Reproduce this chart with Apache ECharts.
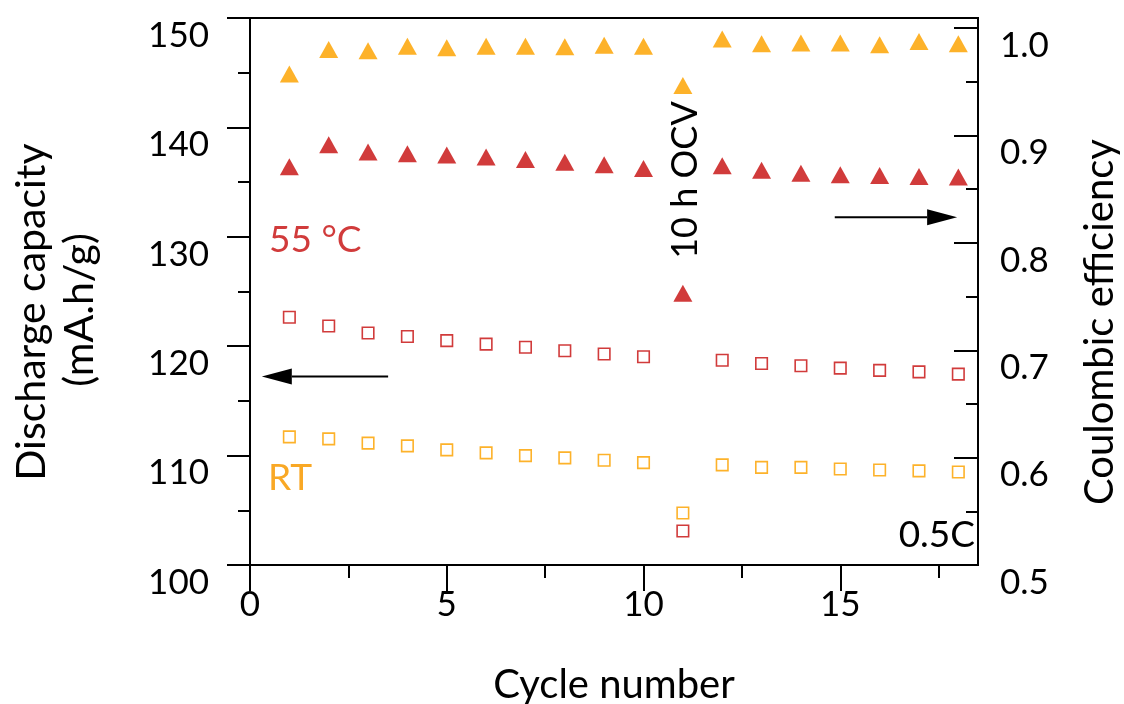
<!DOCTYPE html>
<html>
<head>
<meta charset="utf-8">
<script src="https://cdn.jsdelivr.net/npm/echarts@6/dist/echarts.min.js"></script>
<style>
html,body{margin:0;padding:0;background:#fff;}
#chart{width:1124px;height:704px;}
</style>
</head>
<body>
<div id="chart"></div>
<script>
// ---- data ----
const cycles = [1,2,3,4,5,6,7,8,9,10,11,12,13,14,15,16,17,18];
const capacityRT = [111.71,111.53,111.14,110.89,110.52,110.25,110.00,109.79,109.58,109.36,104.76,109.15,108.92,108.92,108.78,108.69,108.60,108.50];
const capacity55 = [122.64,121.85,121.21,120.88,120.51,120.19,119.90,119.58,119.29,119.03,103.11,118.71,118.42,118.21,118.00,117.79,117.65,117.45];
const ceRT = [0.9573,0.9801,0.9790,0.9831,0.9817,0.9833,0.9833,0.9828,0.9842,0.9833,0.9467,0.9900,0.9856,0.9861,0.9863,0.9847,0.9875,0.9854];
const ce55 = [0.8709,0.8915,0.8848,0.8831,0.8820,0.8800,0.8778,0.8752,0.8727,0.8694,0.7531,0.8718,0.8678,0.8650,0.8634,0.8627,0.8618,0.8615];

// ---- ticks ----
const xMajor = [0,5,10,15];
const xMinor = [2.5,7.5,12.5,17.5];
const leftMajor = [100,110,120,130,140,150];
const leftMinor = [105,115,125,135,145];
const rightMajor = [0.5,0.6,0.7,0.8,0.9,1.0];
const rightMinor = [0.55,0.65,0.75,0.85,0.95];

// ---- annotation anchors (data coords) ----
const leftArrow = {from:[3.51,117.23], to:[0.30,117.23]};
const rightArrow = {from:[14.86,0.824], to:[17.97,0.824]};

const RED = '#D13B3B';
const ORANGE = '#FDB22A';
const FONT = 'Lato';
const FS = 35;

const chart = echarts.init(document.getElementById('chart'), null, {renderer:'canvas'});

const lineStyle = {color:'#000', width:2};
function xAx(ticks, len, labels){
  return {
    type:'value', min:0, max:18.5, position:'bottom',
    axisLine:{show:true, onZero:false, lineStyle},
    axisTick:{show:true, customValues:ticks, length:len, inside:false, lineStyle},
    axisLabel:{show:labels, customValues:xMajor, margin:22, fontFamily:FONT, fontSize:FS, color:'#000'},
    splitLine:{show:false}, minorTick:{show:false}
  };
}
function yAx(pos, min, max, ticks, len, inside, labels, labelVals, margin, fmt){
  return {
    type:'value', min, max, position:pos,
    axisLine:{show:true, onZero:false, lineStyle},
    axisTick:{show:true, customValues:ticks, length:len, inside, lineStyle},
    axisLabel:{show:labels, customValues:labelVals, margin, fontFamily:FONT, fontSize:FS, color:'#000',
      verticalAlign:'top', formatter:fmt},
    splitLine:{show:false}
  };
}

const sq = (c)=>({symbol:'rect', symbolSize:11.5, itemStyle:{color:'rgba(255,255,255,0)', borderColor:c, borderWidth:1.6, opacity:1}});
const tri = (c)=>({symbol:'triangle', symbolSize:[19,17], itemStyle:{color:c, opacity:1}});

chart.setOption({
  animation:false,
  backgroundColor:'#fff',
  grid:{left:250, right:146, top:18, bottom:139, show:true, borderColor:'#000', borderWidth:2, backgroundColor:'transparent'},
  xAxis:[ xAx(xMajor,26,true), xAx(xMinor,13,false) ],
  yAxis:[
    yAx('left',100,150,leftMajor,23,false,true,leftMajor,41,v=>String(v)),
    yAx('left',100,150,leftMinor,12,false,false,leftMajor,41,v=>String(v)),
    yAx('right',0.5,1.0095,rightMajor,24,true,true,rightMajor,22,v=>Number(v).toFixed(1)),
    yAx('right',0.5,1.0095,rightMinor,12,true,false,rightMajor,22,v=>Number(v).toFixed(1))
  ],
  series:[
    Object.assign({type:'scatter', name:'Capacity 55C', xAxisIndex:0, yAxisIndex:0, data:cycles.map((c,i)=>[c,capacity55[i]])}, sq(RED)),
    Object.assign({type:'scatter', name:'Capacity RT', xAxisIndex:0, yAxisIndex:0, data:cycles.map((c,i)=>[c,capacityRT[i]])}, sq(ORANGE)),
    Object.assign({type:'scatter', name:'CE 55C', xAxisIndex:0, yAxisIndex:2, data:cycles.map((c,i)=>[c,ce55[i]])}, tri(RED)),
    Object.assign({type:'scatter', name:'CE RT', xAxisIndex:0, yAxisIndex:2, data:cycles.map((c,i)=>[c,ceRT[i]])}, tri(ORANGE))
  ]
});

function arrow(a, yIdx){
  const p0 = chart.convertToPixel({xAxisIndex:0, yAxisIndex:yIdx}, a.from);
  const p1 = chart.convertToPixel({xAxisIndex:0, yAxisIndex:yIdx}, a.to);
  const dir = Math.sign(p1[0]-p0[0]);
  const headLen = 30, headH = 8;
  const bx = p1[0] - dir*headLen;
  return [
    {type:'line', shape:{x1:p0[0], y1:p0[1], x2:bx, y2:p1[1]}, style:{stroke:'#000', lineWidth:2}},
    {type:'polygon', shape:{points:[[p1[0],p1[1]],[bx,p1[1]-headH],[bx,p1[1]+headH]]}, style:{fill:'#000'}}
  ];
}
function txt(x,y,t,opt){
  return {type:'text', x, y, rotation:opt.rot||0,
    style:{text:t, fontFamily:FONT, fontSize:opt.fs||FS, fill:opt.color||'#000', align:opt.align||'center', verticalAlign:'middle'}};
}
chart.setOption({
  graphic:[].concat(
    arrow(leftArrow,0),
    arrow(rightArrow,2),
    [
      txt(32,312,'Discharge capacity',{rot:Math.PI/2, fs:41}),
      txt(80,310,'(mA.h/g)',{rot:Math.PI/2, fs:41}),
      txt(1100,322,'Coulombic efficiency',{rot:Math.PI/2, fs:40}),
      txt(614,685,'Cycle number',{fs:40}),
      txt(685,180,'10 h OCV',{rot:Math.PI/2, fs:36}),
      txt(269,240,'55 °C',{color:RED, align:'left', fs:37}),
      txt(268,478,'RT',{color:'#F9A825', align:'left', fs:37}),
      txt(975,535,'0.5C',{align:'right', fs:37})
    ]
  )
});
</script>
</body>
</html>
